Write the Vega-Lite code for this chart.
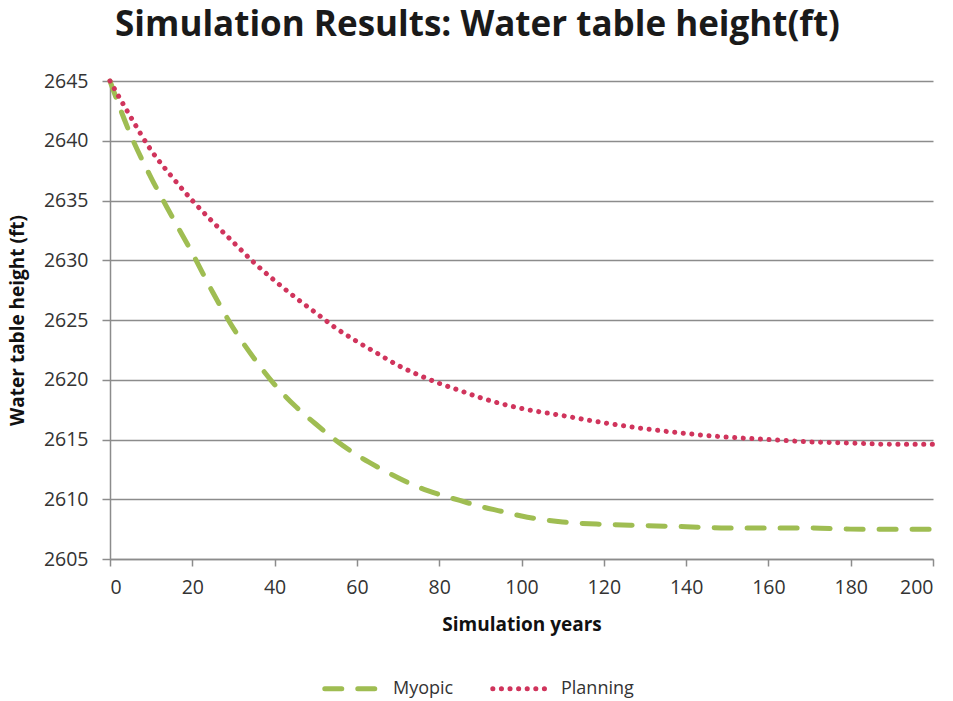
{
  "$schema": "https://vega.github.io/schema/vega-lite/v6.json",
  "width": 823,
  "height": 478,
  "autosize": {"type": "none"},
  "padding": {"left": 110, "top": 81, "right": 20, "bottom": 142},
  "background": "white",
  "title": {
    "text": "Simulation Results: Water table height(ft)",
    "font": "Open Sans",
    "fontSize": 35,
    "fontWeight": "bold",
    "color": "#1a1a1a",
    "anchor": "middle",
    "frame": "group",
    "dx": -44,
    "offset": 28
  },
  "config": {
    "view": {"stroke": null},
    "font": "Open Sans",
    "axis": {
      "labelFont": "Open Sans",
      "labelFontSize": 19.5,
      "labelColor": "#333333",
      "titleFont": "Open Sans",
      "titleFontWeight": "bold",
      "titleColor": "#111111",
      "titleFontSize": 19,
      "domainColor": "#8c8c8c",
      "domainWidth": 1.5,
      "tickColor": "#8c8c8c",
      "tickWidth": 1.5,
      "gridColor": "#8c8c8c",
      "gridWidth": 1.5,
      "gridOpacity": 1
    }
  },
  "data": {
    "values": [
      {"year": 0, "height": 2645.0, "series": "Myopic"},
      {"year": 5, "height": 2640.5, "series": "Myopic"},
      {"year": 10, "height": 2636.9, "series": "Myopic"},
      {"year": 15, "height": 2633.7, "series": "Myopic"},
      {"year": 20, "height": 2630.6, "series": "Myopic"},
      {"year": 25, "height": 2627.3, "series": "Myopic"},
      {"year": 30, "height": 2624.3, "series": "Myopic"},
      {"year": 35, "height": 2621.8, "series": "Myopic"},
      {"year": 40, "height": 2619.6, "series": "Myopic"},
      {"year": 45, "height": 2617.8, "series": "Myopic"},
      {"year": 50, "height": 2616.3, "series": "Myopic"},
      {"year": 55, "height": 2614.9, "series": "Myopic"},
      {"year": 60, "height": 2613.7, "series": "Myopic"},
      {"year": 65, "height": 2612.7, "series": "Myopic"},
      {"year": 70, "height": 2611.8, "series": "Myopic"},
      {"year": 75, "height": 2611.0, "series": "Myopic"},
      {"year": 80, "height": 2610.4, "series": "Myopic"},
      {"year": 85, "height": 2609.9, "series": "Myopic"},
      {"year": 90, "height": 2609.4, "series": "Myopic"},
      {"year": 95, "height": 2609.0, "series": "Myopic"},
      {"year": 100, "height": 2608.6, "series": "Myopic"},
      {"year": 110, "height": 2608.1, "series": "Myopic"},
      {"year": 120, "height": 2607.9, "series": "Myopic"},
      {"year": 130, "height": 2607.8, "series": "Myopic"},
      {"year": 140, "height": 2607.7, "series": "Myopic"},
      {"year": 150, "height": 2607.6, "series": "Myopic"},
      {"year": 160, "height": 2607.6, "series": "Myopic"},
      {"year": 170, "height": 2607.6, "series": "Myopic"},
      {"year": 180, "height": 2607.5, "series": "Myopic"},
      {"year": 190, "height": 2607.5, "series": "Myopic"},
      {"year": 200, "height": 2607.5, "series": "Myopic"},
      {"year": 0, "height": 2645.0, "series": "Planning"},
      {"year": 5, "height": 2642.0, "series": "Planning"},
      {"year": 10, "height": 2639.2, "series": "Planning"},
      {"year": 15, "height": 2637.0, "series": "Planning"},
      {"year": 20, "height": 2635.0, "series": "Planning"},
      {"year": 25, "height": 2633.2, "series": "Planning"},
      {"year": 30, "height": 2631.5, "series": "Planning"},
      {"year": 35, "height": 2629.8, "series": "Planning"},
      {"year": 40, "height": 2628.3, "series": "Planning"},
      {"year": 45, "height": 2626.9, "series": "Planning"},
      {"year": 50, "height": 2625.6, "series": "Planning"},
      {"year": 55, "height": 2624.3, "series": "Planning"},
      {"year": 60, "height": 2623.2, "series": "Planning"},
      {"year": 65, "height": 2622.2, "series": "Planning"},
      {"year": 70, "height": 2621.2, "series": "Planning"},
      {"year": 75, "height": 2620.4, "series": "Planning"},
      {"year": 80, "height": 2619.7, "series": "Planning"},
      {"year": 85, "height": 2619.1, "series": "Planning"},
      {"year": 90, "height": 2618.5, "series": "Planning"},
      {"year": 95, "height": 2618.0, "series": "Planning"},
      {"year": 100, "height": 2617.6, "series": "Planning"},
      {"year": 110, "height": 2617.0, "series": "Planning"},
      {"year": 120, "height": 2616.4, "series": "Planning"},
      {"year": 130, "height": 2615.9, "series": "Planning"},
      {"year": 140, "height": 2615.5, "series": "Planning"},
      {"year": 150, "height": 2615.2, "series": "Planning"},
      {"year": 160, "height": 2615.0, "series": "Planning"},
      {"year": 170, "height": 2614.8, "series": "Planning"},
      {"year": 180, "height": 2614.7, "series": "Planning"},
      {"year": 190, "height": 2614.6, "series": "Planning"},
      {"year": 200, "height": 2614.6, "series": "Planning"}
    ]
  },
  "mark": {"type": "line", "strokeCap": "round", "strokeWidth": 5, "interpolate": "monotone"},
  "encoding": {
    "x": {
      "field": "year",
      "type": "quantitative",
      "title": "Simulation years",
      "scale": {"domain": [0, 200], "nice": false},
      "axis": {
        "values": [0, 20, 40, 60, 80, 100, 120, 140, 160, 180, 200],
        "grid": false,
        "tickSize": 7,
        "labelPadding": 12,
        "titlePadding": 19
      }
    },
    "y": {
      "field": "height",
      "type": "quantitative",
      "title": "Water table height (ft)",
      "scale": {"domain": [2605, 2645], "nice": false, "zero": false},
      "axis": {
        "values": [2605, 2610, 2615, 2620, 2625, 2630, 2635, 2640, 2645],
        "format": "d",
        "tickSize": 8,
        "labelPadding": 14,
        "titlePadding": 16
      }
    },
    "color": {
      "field": "series",
      "type": "nominal",
      "scale": {"domain": ["Myopic", "Planning"], "range": ["#9fbd52", "#d0345c"]},
      "legend": {
        "title": null,
        "orient": "none",
        "legendX": 212,
        "legendY": 576,
        "direction": "horizontal",
        "labelFont": "Open Sans",
        "labelFontSize": 18,
        "labelColor": "#333333",
        "labelOffset": 8,
        "symbolType": "stroke",
        "symbolSize": 3300,
        "symbolStrokeWidth": 5,
        "columnPadding": 28,
        "encode": {"symbols": {"update": {"strokeCap": {"value": "round"}}}}
      }
    },
    "strokeDash": {
      "field": "series",
      "type": "nominal",
      "scale": {"domain": ["Myopic", "Planning"], "range": [[17, 16], [0.1, 8.5]]},
      "legend": null
    }
  }
}
